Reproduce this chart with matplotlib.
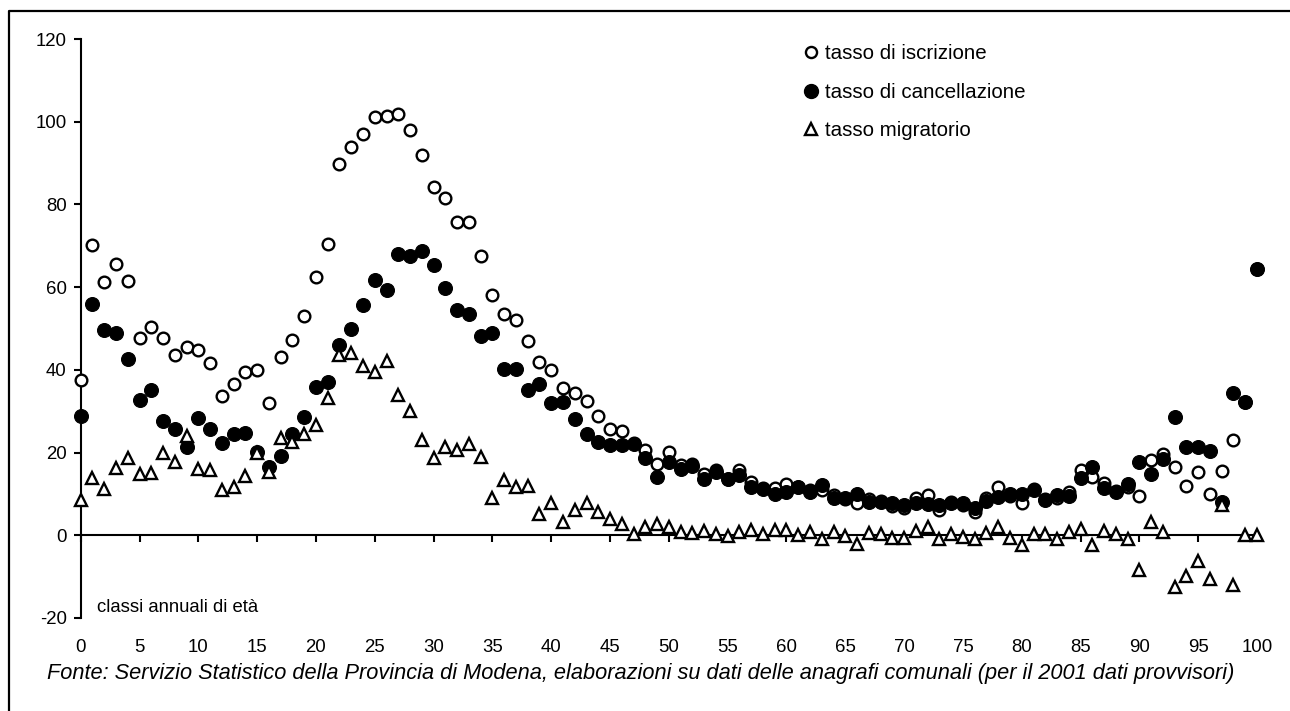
import matplotlib
matplotlib.use("Agg")
import matplotlib.pyplot as plt
from matplotlib.lines import Line2D

plt.rcParams["font.family"] = ["Liberation Sans", "DejaVu Sans"]
plt.rcParams["axes.unicode_minus"] = False

# classi annuali di età 0..100
eta = list(range(0, 101))

# tasso di iscrizione (cerchi vuoti)
iscrizione = [
    37.5, 70.3, 61.3, 65.6, 61.5, 47.7, 50.4, 47.6, 43.5, 45.6,
    44.8, 41.7, 33.6, 36.5, 39.4, 39.9, 31.9, 43.0, 47.3, 53.1,
    62.5, 70.5, 89.8, 94.0, 97.0, 101.2, 101.5, 101.9, 98.0, 92.0,
    84.1, 81.5, 75.8, 75.8, 67.5, 58.2, 53.6, 52.0, 46.9, 41.9,
    39.9, 35.5, 34.5, 32.5, 28.9, 25.6, 25.2, 22.2, 20.7, 17.3,
    20.2, 16.9, 17.3, 14.9, 15.7, 13.7, 15.7, 12.9, 11.5, 11.5,
    12.3, 11.7, 10.9, 10.9, 9.7, 8.7, 7.9, 8.7, 8.3, 7.2,
    6.7, 8.9, 9.7, 6.0, 8.0, 7.4, 5.7, 8.9, 11.7, 9.5,
    7.7, 11.1, 8.7, 8.9, 10.5, 15.7, 14.0, 12.7, 10.7, 11.7,
    9.5, 18.3, 19.6, 16.5, 11.9, 15.2, 10.1, 15.5, 23.0, 32.3,
    64.3,
]

# tasso di cancellazione (cerchi pieni)
cancellazione = [
    28.9, 56.0, 49.6, 49.0, 42.7, 32.7, 35.1, 27.7, 25.6, 21.4,
    28.4, 25.6, 22.4, 24.6, 24.8, 20.2, 16.5, 19.1, 24.6, 28.5,
    35.9, 37.1, 46.1, 49.8, 55.6, 61.7, 59.3, 67.9, 67.6, 68.8,
    65.3, 59.7, 54.4, 53.6, 48.2, 48.8, 40.3, 40.3, 35.1, 36.5,
    32.1, 32.3, 28.2, 24.6, 22.6, 21.8, 21.8, 22.0, 18.7, 14.1,
    17.7, 16.1, 16.8, 13.7, 15.3, 13.7, 14.5, 11.7, 11.3, 10.1,
    10.5, 11.7, 10.5, 12.1, 8.9, 8.9, 10.1, 8.1, 8.1, 7.8,
    7.3, 7.7, 7.5, 7.3, 7.8, 7.8, 6.5, 8.3, 9.3, 10.1,
    10.1, 10.9, 8.5, 9.7, 9.4, 13.9, 16.5, 11.5, 10.5, 12.5,
    17.8, 14.8, 18.4, 28.7, 21.4, 21.4, 20.3, 8.1, 34.4, 32.3,
    64.3,
]

# tasso migratorio (triangoli)
migratorio = [
    8.5, 13.9, 11.3, 16.3, 18.7, 14.7, 15.1, 19.8, 17.7, 24.0,
    16.0, 15.9, 11.0, 11.7, 14.4, 19.8, 15.3, 23.5, 22.6, 24.4,
    26.6, 33.2, 43.5, 44.1, 41.0, 39.4, 42.1, 33.8, 30.0, 23.0,
    18.7, 21.4, 20.7, 22.0, 19.0, 9.0, 13.3, 11.7, 11.9, 5.2,
    7.7, 3.2, 6.0, 7.7, 5.6, 4.0, 2.8, 0.2, 2.0, 2.7,
    2.0, 0.8, 0.6, 1.0, 0.2, -0.2, 0.8, 1.2, 0.2, 1.2,
    1.2, 0.0, 0.8, -1.0, 0.8, -0.2, -2.0, 0.6, 0.2, -0.6,
    -0.6, 1.0, 2.0, -0.8, 0.2, -0.4, -0.8, 0.6, 2.0, -0.6,
    -2.3, 0.2, 0.2, -0.8, 0.8, 1.6, -2.4, 1.0, 0.2, -0.8,
    -8.3, 3.2, 0.8, -12.5, -9.8, -6.3, -10.6, 7.4, -11.9, 0.0,
    0.0,
]

y_ticks = [-20, 0, 20, 40, 60, 80, 100, 120]
x_ticks = list(range(0, 101, 5))

W, H = 1290, 711
fig = plt.figure(figsize=(W / 100, H / 100), dpi=100)
ax = fig.add_axes([80.7 / W, (H - 618) / H, (1257 - 80.7) / W, (618 - 39) / H])

# same stacking as the original: iscrizione under, cancellazione over, migratorio on top
ax.plot(eta, iscrizione, linestyle="none", marker="o", markersize=8.4,
        markerfacecolor="white", markeredgecolor="black", markeredgewidth=1.7,
        clip_on=False, zorder=3)
ax.plot(eta, cancellazione, linestyle="none", marker="o", markersize=10,
        markeredgewidth=0.8, color="black", clip_on=False, zorder=4)
ax.plot(eta, migratorio, linestyle="none", marker="^", markersize=8.5,
        markerfacecolor="white", markeredgecolor="black", markeredgewidth=1.7,
        clip_on=False, zorder=5)

ax.set_xlim(0, 100)
ax.set_ylim(-20, 120)
ax.set_yticks(y_ticks)
ax.set_xticks(x_ticks)
ax.spines["top"].set_visible(False)
ax.spines["right"].set_visible(False)
ax.spines["bottom"].set_position(("data", 0))
ax.spines["left"].set_linewidth(1.5)
ax.spines["bottom"].set_linewidth(1.5)
ax.tick_params(axis="y", direction="out", length=5, width=1.5, labelsize=13.4, pad=5)
ax.tick_params(axis="x", direction="out", length=5, width=1.5, labelbottom=False)

# etichette dell'asse x in basso, sotto -20
sec = ax.secondary_xaxis("bottom")
sec.set_xticks(x_ticks)
sec.spines["bottom"].set_visible(False)
sec.tick_params(length=0, labelsize=13.4, pad=15)

ax.text(1.4, -17.4, "classi annuali di età", fontsize=13.3, va="center", ha="left")

handles = [
    Line2D([], [], linestyle="none", marker="o", markersize=8, markerfacecolor="white",
           markeredgecolor="black", markeredgewidth=1.7),
    Line2D([], [], linestyle="none", marker="o", markersize=10, color="black"),
    Line2D([], [], linestyle="none", marker="^", markersize=8.5, markerfacecolor="white",
           markeredgecolor="black", markeredgewidth=1.7),
]
labels = ["tasso di iscrizione", "tasso di cancellazione", "tasso migratorio"]
fig.legend(handles, labels, loc="upper left", bbox_to_anchor=(796 / W, (H - 34) / H),
           frameon=False, fontsize=14.8, handlelength=0.5, handletextpad=0.4,
           labelspacing=0.95, borderpad=0)

fig.text(47 / W, (H - 673) / H,
         "Fonte: Servizio Statistico della Provincia di Modena, elaborazioni su dati delle "
         "anagrafi comunali (per il 2001 dati provvisori)",
         fontsize=15.7, style="italic", va="center", ha="left")

# cornice esterna
fig.add_artist(Line2D([8.5 / W, 8.5 / W, 1.01], [-0.01, (H - 11) / H, (H - 11) / H],
                      transform=fig.transFigure, color="black", linewidth=1.6))

fig.savefig("out.png", dpi=100)
